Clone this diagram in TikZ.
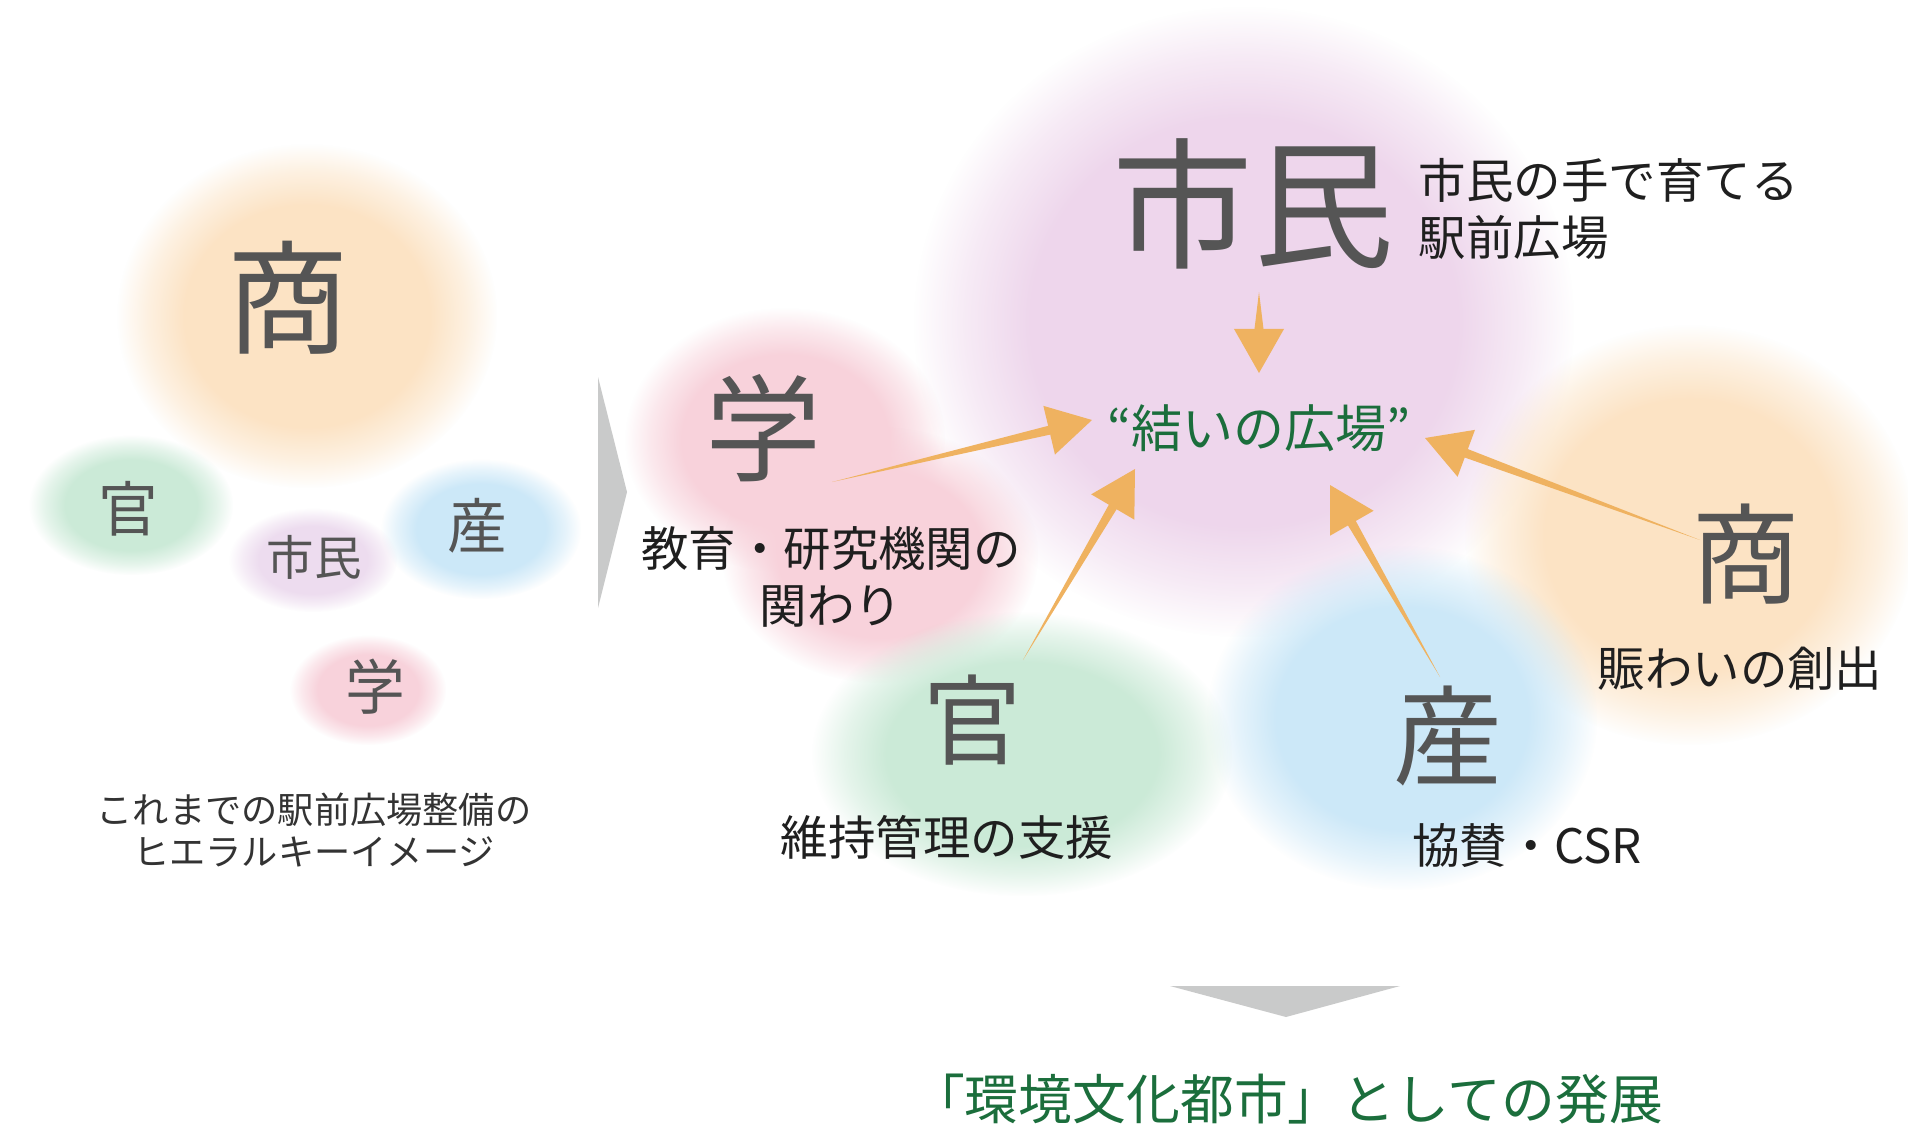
\documentclass[tikz,border=0pt]{standalone}
\usepackage{fontspec}
\newfontfamily\jp{Noto Sans CJK JP}
\usetikzlibrary{calc,fadings}
\definecolor{lav}{HTML}{EED6EC}
\definecolor{lavs}{HTML}{EDDCEF}
\definecolor{pinkb}{HTML}{F8D2DB}
\definecolor{orab}{HTML}{FCE3C4}
\definecolor{greenb}{HTML}{CBEAD7}
\definecolor{blueb}{HTML}{CCE8F8}
\definecolor{arrowc}{HTML}{EFB260}
\definecolor{grayarr}{HTML}{C9CACA}
\definecolor{bigtext}{HTML}{555555}
\definecolor{greentext}{HTML}{1B6E3C}
\pgfdeclareradialshading{blobshade}{\pgfpointorigin}{color(0bp)=(white); color(16bp)=(white); color(21bp)=(gray); color(25bp)=(black); color(50bp)=(black)}
\pgfdeclarefading{blob}{\pgfuseshading{blobshade}}
\newcommand\taperarrow[2]{%
  \coordinate (tmpH) at ($(#2)!0.44cm!(#1)$);
  \fill[arrowc] (#1) -- ($(tmpH)!0.045cm!90:(#2)$) -- ($(tmpH)!0.25cm!90:(#2)$) -- (#2)
     -- ($(tmpH)!0.25cm!-90:(#2)$) -- ($(tmpH)!0.045cm!-90:(#2)$) -- cycle;}
\begin{document}
\begin{tikzpicture}[x=0.01cm,y=-0.01cm,
  bigc/.style={font=\jp\fontsize{#1}{#1}\selectfont, text=bigtext, inner sep=0pt},
  lbl/.style={font=\jp\fontsize{13.5pt}{16pt}\selectfont, text=black!88, inner sep=0pt, align=center},
  blobfill/.style={fill=#1, path fading=blob}]
\useasboundingbox[fill=white] (0,0) rectangle (1908,1124);
% ---------- left blobs
\fill[blobfill=orab] (307,316) ellipse (190 and 172);
\fill[blobfill=greenb] (131,505) ellipse (102 and 70);
\fill[blobfill=blueb] (481,529) ellipse (100 and 70);
\fill[blobfill=lavs] (313,560) ellipse (84 and 52);
\fill[blobfill=pinkb] (368,690) ellipse (78 and 55);
% ---------- right blobs
\fill[blobfill=lav] (1244,322) ellipse (330 and 315);
\fill[blobfill=orab] (1690,535) ellipse (225 and 210);
\fill[blobfill=pinkb] (785,440) ellipse (160 and 132);
\fill[blobfill=pinkb] (880,555) ellipse (158 and 128);
\fill[blobfill=blueb] (1402,718) ellipse (195 and 172);
\fill[blobfill=greenb] (1022,754) ellipse (210 and 142);
% ---------- left texts
\node[bigc=35pt] (lsho) at (288,298) {商};
\node[bigc=17pt] (lkan) at (128,509) {官};
\node[bigc=17pt] (lsan) at (477,526) {産};
\node[bigc=13.5pt] (lshi) at (314,557) {市民};
\node[bigc=17pt] (lgak) at (375,687) {学};
\node[font=\jp\fontsize{10.3pt}{12.2pt}\selectfont, text=black!80, inner sep=0pt, align=center] (cap) at (314,830) {これまでの駅前広場整備の\\ヒエラルキーイメージ};
% ---------- gray arrows
\fill[grayarr] (598,377) -- (627,492) -- (598,608) -- cycle;
\fill[grayarr] (1170,986) -- (1400,986) -- (1286,1017) -- cycle;
% ---------- right texts
\node[bigc=40pt] (shimin) at (1253,204) {市民};
\node[lbl, align=left, anchor=west] (shiminl) at (1418,209) {市民の手で育てる\\駅前広場};
\node[bigc=33pt] (gaku) at (764,428) {学};
\node[lbl] (gakul) at (831,577) {教育・研究機関の\\関わり};
\node[font=\jp\fontsize{14.5pt}{16pt}\selectfont, text=greentext, inner sep=0pt] (center) at (1259,428) {“結いの広場”};
\node[bigc=31pt] (sho) at (1746,554) {商};
\node[lbl] (shol) at (1740,669) {賑わいの創出};
\node[bigc=28pt] (kan) at (973,720) {官};
\node[lbl] (kanl) at (947,837) {維持管理の支援};
\node[bigc=31pt] (san) at (1448,736) {産};
\node[lbl] (sanl) at (1527,846) {協賛・CSR};
\node[font=\jp\fontsize{15.3pt}{18pt}\selectfont, text=greentext, inner sep=0pt] (goal) at (1287,1099) {「環境文化都市」としての発展};
% ---------- orange arrows
\coordinate (a1s) at (1259,292); \coordinate (a1e) at (1259,373);
\coordinate (a2s) at (832,482);  \coordinate (a2e) at (1092,420);
\coordinate (a3s) at (1023,660); \coordinate (a3e) at (1135,469);
\coordinate (a4s) at (1440,677); \coordinate (a4e) at (1330,485);
\coordinate (a5s) at (1700,540); \coordinate (a5e) at (1425,438);
\taperarrow{a1s}{a1e}
\taperarrow{a2s}{a2e}
\taperarrow{a3s}{a3e}
\taperarrow{a4s}{a4e}
\taperarrow{a5s}{a5e}
\end{tikzpicture}
\end{document}
